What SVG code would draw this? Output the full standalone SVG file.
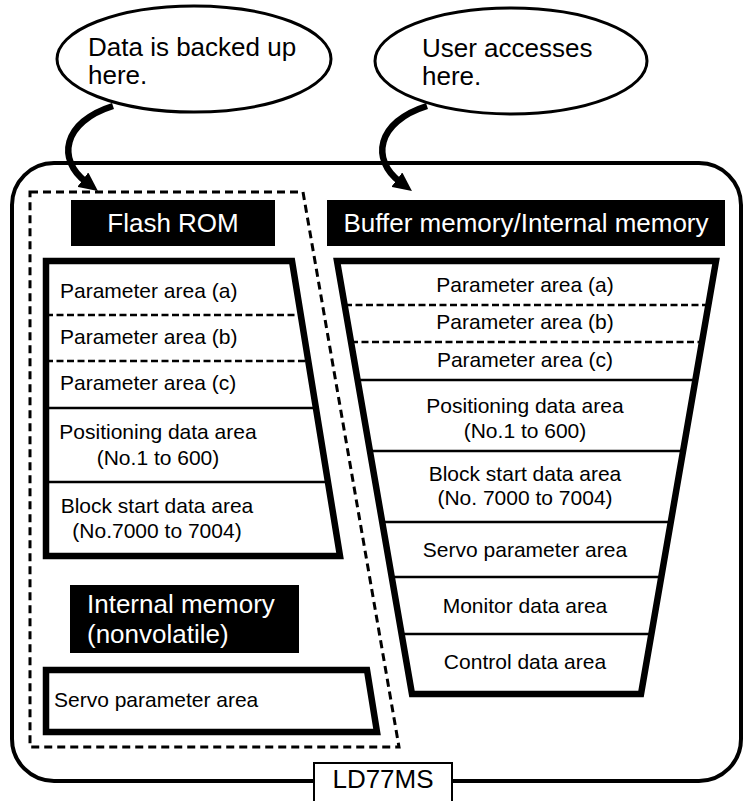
<svg xmlns="http://www.w3.org/2000/svg" width="744" height="801" viewBox="0 0 744 801">
<style>
text{font-family:"Liberation Sans",Arial,sans-serif;fill:#000}
.big{font-size:26px}
.sm{font-size:21px}
.mid{text-anchor:middle}
.hdr{fill:#fff;font-size:26px}
.thick{fill:#fff;stroke:#000;stroke-width:6.5;stroke-linejoin:miter}
.div{stroke:#000;stroke-width:2.5;fill:none}
.dash{stroke:#000;stroke-width:2.5;stroke-dasharray:7,3.5;fill:none}
.arrow{fill:none;stroke:#000;stroke-width:6.5;marker-end:url(#ah)}
</style>
<defs>
<marker id="ah" markerUnits="userSpaceOnUse" markerWidth="20" markerHeight="18" refX="4" refY="9" orient="auto">
<path d="M0,0 L19,9 L0,18 z" fill="#000"/>
</marker>
</defs>
<rect width="744" height="801" fill="#fff"/>

<g id="module">
<rect x="12" y="163" width="729" height="618" rx="42" ry="42" fill="none" stroke="#000" stroke-width="4"/>
</g>

<g id="backup-region">
<path d="M30,192 L303,192 L399,747 L30,747 Z" fill="none" stroke="#000" stroke-width="3" stroke-dasharray="8,5"/>
</g>

<g id="flash-rom-title">
<rect x="71" y="200" width="204" height="46" fill="#000"/>
<text class="hdr mid" x="173" y="232">Flash ROM</text>
</g>

<g id="flash-rom">
<path class="thick" d="M46,261 L292,261 L340,556 L46,556 Z"/>
<line class="dash" x1="46" y1="315" x2="300" y2="315"/>
<line class="dash" x1="46" y1="361" x2="308" y2="361"/>
<line class="div" x1="46" y1="408" x2="316" y2="408"/>
<line class="div" x1="46" y1="482" x2="328" y2="482"/>
<text class="sm" x="60" y="298">Parameter area (a)</text>
<text class="sm" x="60" y="344">Parameter area (b)</text>
<text class="sm" x="60" y="390">Parameter area (c)</text>
<text class="sm mid" x="158" y="439">Positioning data area</text>
<text class="sm mid" x="158" y="465">(No.1 to 600)</text>
<text class="sm mid" x="157" y="513">Block start data area</text>
<text class="sm mid" x="157" y="538">(No.7000 to 7004)</text>
</g>

<g id="internal-nv-title">
<rect x="70" y="585" width="229" height="68" fill="#000"/>
<text class="hdr" x="87" y="613">Internal memory</text>
<text class="hdr" x="87" y="643">(nonvolatile)</text>
</g>

<g id="internal-nv">
<path class="thick" d="M46,670 L367,670 L377,732 L46,732 Z"/>
<text class="sm" x="54" y="707">Servo parameter area</text>
</g>

<g id="buffer-title">
<rect x="327" y="200" width="398" height="46" fill="#000"/>
<text class="hdr mid" x="526" y="232">Buffer memory/Internal memory</text>
</g>

<g id="buffer-memory">
<path class="thick" d="M337,261 L716,261 L641,694 L412,694 Z"/>
<line class="dash" x1="345" y1="305" x2="708" y2="305"/>
<line class="dash" x1="351" y1="342" x2="702" y2="342"/>
<line class="div" x1="357" y1="380" x2="695" y2="380"/>
<line class="div" x1="370" y1="451" x2="683" y2="451"/>
<line class="div" x1="382" y1="522" x2="671" y2="522"/>
<line class="div" x1="391" y1="577" x2="661" y2="577"/>
<line class="div" x1="401" y1="634" x2="651" y2="634"/>
<text class="sm mid" x="525" y="292">Parameter area (a)</text>
<text class="sm mid" x="525" y="329">Parameter area (b)</text>
<text class="sm mid" x="525" y="367">Parameter area (c)</text>
<text class="sm mid" x="525" y="413">Positioning data area</text>
<text class="sm mid" x="525" y="438">(No.1 to 600)</text>
<text class="sm mid" x="525" y="481">Block start data area</text>
<text class="sm mid" x="525" y="505">(No. 7000 to 7004)</text>
<text class="sm mid" x="525" y="557">Servo parameter area</text>
<text class="sm mid" x="525" y="613">Monitor data area</text>
<text class="sm mid" x="525" y="669">Control data area</text>
</g>

<g id="callout-backup">
<ellipse cx="194" cy="59" rx="137" ry="53" fill="#fff" stroke="#000" stroke-width="3"/>
<text class="big" x="88" y="56">Data is backed up</text>
<text class="big" x="88" y="84">here.</text>
</g>

<g id="callout-user">
<ellipse cx="511" cy="61" rx="136" ry="53" fill="#fff" stroke="#000" stroke-width="3"/>
<text class="big" x="422" y="57">User accesses</text>
<text class="big" x="422" y="85">here.</text>
</g>

<g id="connectors">
<path class="arrow" d="M113,106 C62,122 57,160 86,182"/>
<path class="arrow" d="M427,106 C376,122 371,160 400,182"/>
</g>

<g id="ld77ms-label">
<rect x="314" y="763" width="138" height="45" fill="#fff" stroke="#000" stroke-width="2"/>
<text class="big mid" x="383" y="788">LD77MS</text>
</g>
</svg>
